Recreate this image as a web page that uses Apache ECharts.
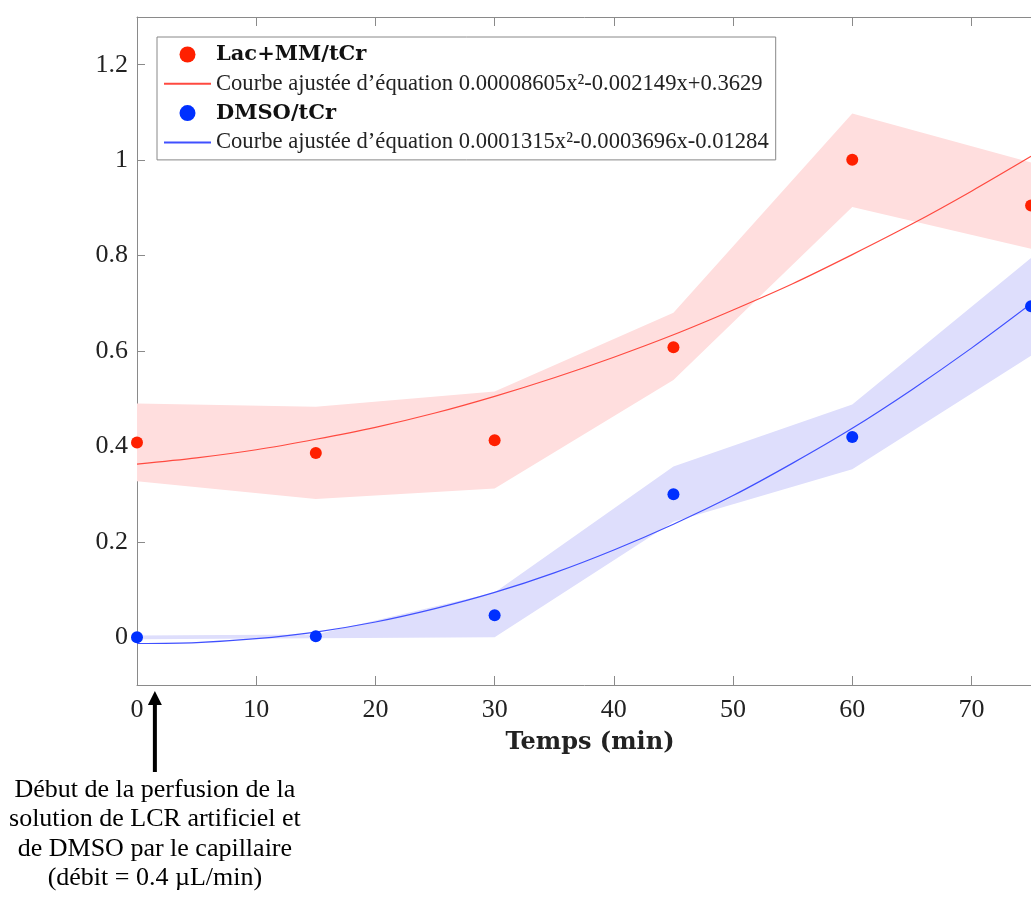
<!DOCTYPE html>
<html>
<head>
<meta charset="utf-8">
<script src="https://cdn.jsdelivr.net/npm/echarts@6/dist/echarts.min.js"></script>
<style>
html,body{margin:0;padding:0;background:#fff;}
#chart{width:1031px;height:899px;}
</style>
</head>
<body>
<div id="chart"></div>
<script>
// ---- data ----
const xTimes = [0, 15, 30, 45, 60, 75];
const lacMean  = [0.408, 0.386, 0.413, 0.608, 1.001, 0.905];
const lacUpper = [0.490, 0.483, 0.515, 0.680, 1.098, 0.995];
const lacLower = [0.327, 0.290, 0.312, 0.539, 0.902, 0.814];
const dmsoMean  = [0.000, 0.002, 0.046, 0.300, 0.420, 0.694];
const dmsoUpper = [0.004, 0.006, 0.094, 0.358, 0.488, 0.795];
const dmsoLower = [-0.004, -0.002, 0.000, 0.242, 0.352, 0.590];

const xFit = [0, 5, 10, 15, 20, 25, 30, 35, 40, 45, 50, 55, 60, 65, 70, 75];
const lacFit  = [0.363, 0.376, 0.393, 0.415, 0.440, 0.470, 0.505, 0.544, 0.587, 0.634, 0.686, 0.741, 0.802, 0.866, 0.935, 1.008];
const dmsoFit = [-0.013, -0.011, -0.003, 0.011, 0.032, 0.060, 0.094, 0.135, 0.183, 0.237, 0.297, 0.365, 0.438, 0.519, 0.606, 0.699];

const xTicks = [0, 10, 20, 30, 40, 50, 60, 70];
const yTicks = [0, 0.2, 0.4, 0.6, 0.8, 1, 1.2];

const nameLac = 'Lac+MM/tCr';
const nameLacFit = 'Courbe ajustée d’équation 0.00008605x²-0.002149x+0.3629';
const nameDmso = 'DMSO/tCr';
const nameDmsoFit = 'Courbe ajustée d’équation 0.0001315x²-0.0003696x-0.01284';
const xAxisName = 'Temps (min)';
const noteLines = ['Début de la perfusion de la', 'solution de LCR artificiel et', 'de DMSO par le capillaire', '(débit = 0.4 µL/min)'];
const noteX = 1.5;

// ---- helpers ----
const pairs = (xs, ys) => xs.map((x, i) => [x, ys[i]]);

const AX = '#8a8a8a';
const TXT = '#222';

const chart = echarts.init(document.getElementById('chart'), null, {renderer: 'canvas'});

// shaded band between lower and upper values, drawn through the axis scales
function bandSeries(name, xs, lo, hi, color) {
  return {
    name: name, type: 'custom', silent: true, z: 1,
    data: xs.map((x, i) => [x, lo[i], hi[i]]),
    encode: {x: 0, y: [1, 2]},
    renderItem: function (params, api) {
      if (params.dataIndex !== 0) return null;
      const top = xs.map((x, i) => api.coord([x, hi[i]]));
      const bot = xs.map((x, i) => api.coord([x, lo[i]])).reverse();
      return {
        type: 'polygon',
        shape: {points: top.concat(bot)},
        style: {fill: color}
      };
    }
  };
}

const option = {
  animation: false,
  backgroundColor: '#fff',
  grid: {left: 137, width: 906, top: 17, bottom: 214, containLabel: false, outerBoundsMode: 'none'},
  legend: {
    data: [
      {name: nameLac},
      {name: nameLacFit, itemStyle: {opacity: 0}},
      {name: nameDmso},
      {name: nameDmsoFit, itemStyle: {opacity: 0}}
    ],
    orient: 'vertical',
    left: 157, top: 37,
    padding: [7, 7, 6, 6],
    itemWidth: 47, itemHeight: 16, itemGap: 7.3,
    backgroundColor: '#fff',
    borderColor: '#888', borderWidth: 1, borderRadius: 0,
    selectedMode: false,
    formatter: function (n) {
      return (n === nameLac || n === nameDmso) ? '{b|' + n + '}' : '{n|' + n + '}';
    },
    textStyle: {
      rich: {
        b: {fontFamily: 'DejaVu Serif', fontWeight: 'bold', fontSize: 21, color: '#111', lineHeight: 24},
        n: {fontFamily: 'Liberation Serif', fontSize: 22.6, color: TXT, lineHeight: 24}
      }
    }
  },
  xAxis: [{
    type: 'value', min: 0, max: 76, interval: 10, position: 'bottom',
    name: xAxisName, nameLocation: 'middle', nameGap: 46,
    nameTextStyle: {fontFamily: 'DejaVu Serif', fontWeight: 'bold', fontSize: 24, color: TXT},
    axisLine: {show: true, onZero: false, lineStyle: {color: AX, width: 1}},
    axisTick: {show: true, inside: true, length: 9, customValues: xTicks, lineStyle: {color: AX}},
    axisLabel: {show: true, customValues: xTicks, margin: 12, fontFamily: 'Liberation Serif', fontSize: 26, color: TXT},
    splitLine: {show: false}
  }, {
    type: 'value', min: 0, max: 76, interval: 10, position: 'top',
    axisLine: {show: true, onZero: false, lineStyle: {color: AX, width: 1}},
    axisTick: {show: true, inside: true, length: 9, customValues: xTicks, lineStyle: {color: AX}},
    axisLabel: {show: false},
    splitLine: {show: false}
  }],
  yAxis: [{
    type: 'value', min: -0.1, max: 1.3, position: 'left',
    axisLine: {show: true, onZero: false, lineStyle: {color: AX, width: 1}},
    axisTick: {show: true, inside: true, length: 8, customValues: yTicks, lineStyle: {color: AX}},
    axisLabel: {show: true, customValues: yTicks, margin: 9, fontFamily: 'Liberation Serif', fontSize: 26, color: TXT,
      formatter: v => String(+v.toFixed(2))},
    splitLine: {show: false}
  }],
  series: [
    bandSeries('lacBand', xTimes, lacLower, lacUpper, 'rgb(255,222,222)'),
    bandSeries('dmsoBand', xTimes, dmsoLower, dmsoUpper, 'rgb(222,222,252)'),
    {name: nameLacFit, type: 'line', smooth: 0.3, symbol: 'none', data: pairs(xFit, lacFit),
      lineStyle: {color: '#ff4a40', width: 1.2}, itemStyle: {color: '#ff4a40'}, z: 3},
    {name: nameDmsoFit, type: 'line', smooth: 0.3, symbol: 'none', data: pairs(xFit, dmsoFit),
      lineStyle: {color: '#4050ff', width: 1.2}, itemStyle: {color: '#4050ff'}, z: 3},
    {name: nameLac, type: 'scatter', symbol: 'circle', symbolSize: 12, data: pairs(xTimes, lacMean),
      itemStyle: {color: '#ff2000', opacity: 1}, z: 5},
    {name: nameDmso, type: 'scatter', symbol: 'circle', symbolSize: 12, data: pairs(xTimes, dmsoMean),
      itemStyle: {color: '#0030ff', opacity: 1}, z: 5}
  ]
};
chart.setOption(option);

// annotation arrow + note under the axis, positioned through the axis scale
const ax = chart.convertToPixel({xAxisIndex: 0}, noteX);
chart.setOption({
  graphic: [
    {type: 'line', shape: {x1: ax, y1: 772, x2: ax, y2: 702}, style: {stroke: '#000', lineWidth: 4}},
    {type: 'polygon', shape: {points: [[ax - 7, 705], [ax + 7, 705], [ax, 691]]}, style: {fill: '#000'}},
    {type: 'text', x: ax, y: 775, style: {text: noteLines.join('\n'), fill: '#000', font: '26px "Liberation Serif"',
      align: 'center', verticalAlign: 'top', lineHeight: 29.5}}
  ]
});
</script>
</body>
</html>
